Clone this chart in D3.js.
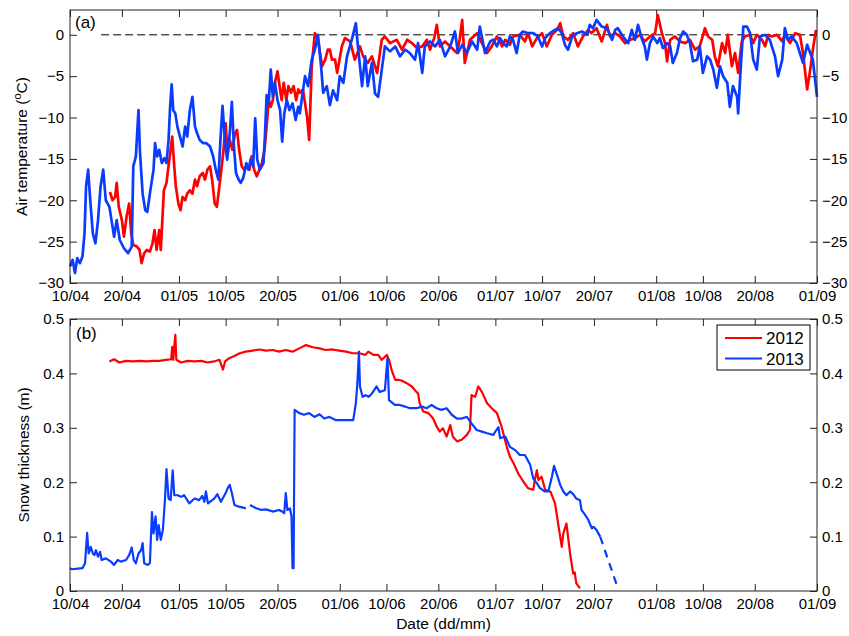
<!DOCTYPE html>
<html><head><meta charset="utf-8">
<script src="https://d3js.org/d3.v7.min.js"></script>
<style>
body{margin:0;background:#fff;}
text{font-family:"Liberation Sans",Arial,Helvetica,sans-serif;}
</style></head>
<body><svg id="c" width="849" height="636"></svg>
<script>
// ---- data (x = days since 10/04) ----
const dateTickDays   = [0,10,21,30,40,52,61,71,82,91,101,113,122,132,144];
const dateTickLabels = ["10/04","20/04","01/05","10/05","20/05","01/06","10/06","20/06","01/07","10/07","20/07","01/08","10/08","20/08","01/09"];
const airTicks  = [-30,-25,-20,-15,-10,-5,0];
const snowTicks = [0,0.1,0.2,0.3,0.4,0.5];
const seriesNames = ["2012","2013"];

const airDays2012 = [7.7,8.2,8.7,9.0,9.4,10.0,10.4,10.9,11.4,11.8,12.2,12.9,13.4,13.8,14.3,14.8,15.4,15.9,16.3,16.7,17.2,17.5,17.8,18.1,18.6,18.9,19.4,19.7,20.1,20.4,20.9,21.3,21.7,22.2,22.6,23.1,23.6,24.1,24.5,25.0,25.6,26.0,26.5,27.0,27.4,27.9,28.3,28.7,29.1,29.6,30.0,30.4,30.8,31.3,31.8,32.2,32.6,33.1,33.6,34.1,34.6,35.0,35.5,36.0,36.5,37.0,37.5,37.9,38.3,38.7,39.1,39.5,40.0,40.4,40.8,41.2,41.7,42.1,42.6,43.1,43.6,44.0,44.3,44.9,45.7,46.1,46.6,47.2,47.8,48.6,49.2,49.7,50.1,50.5,51.1,51.5,52.4,53.0,54.0,54.9,55.9,56.5,57.4,58.2,59.2,60.1,60.7,61.7,63.0,64.0,65.0,65.9,66.9,67.9,68.8,69.4,70.2,70.7,71.3,72.3,73.3,74.6,75.1,75.6,76.1,77.1,78.5,79.4,80.4,81.3,82.3,83.3,83.9,84.8,85.4,86.7,87.7,88.3,89.1,90.0,91.0,91.9,92.9,93.9,94.5,95.1,96.0,97.0,97.9,98.9,99.9,100.5,101.5,102.5,103.5,104.1,105.1,106.0,107.0,108.0,108.9,109.9,110.8,111.8,112.8,113.3,114.1,114.7,115.1,115.7,116.6,117.6,118.6,119.5,120.5,121.4,122.4,123.0,123.8,124.3,124.9,125.7,126.3,126.8,127.6,128.2,128.8,129.5,130.1,131.1,131.7,132.4,133.4,134.0,134.6,135.3,136.3,137.3,137.8,138.8,139.8,140.7,141.3,142.1,142.7,143.2,143.8];
const air2012 = [-19.0,-20.0,-19.6,-17.9,-20.8,-22.4,-24.4,-22.0,-20.4,-24.0,-25.4,-25.6,-26.0,-27.6,-26.4,-26.0,-26.2,-25.2,-23.6,-26.0,-23.6,-26.0,-22.4,-18.8,-17.9,-16.3,-13.9,-12.3,-15.9,-18.3,-20.4,-21.2,-19.6,-20.0,-19.2,-18.8,-19.2,-17.5,-18.3,-17.1,-16.7,-17.5,-16.3,-15.9,-17.5,-20.4,-20.8,-18.8,-16.7,-13.9,-10.7,-14.3,-12.7,-13.9,-11.9,-11.5,-13.9,-15.9,-16.3,-15.9,-16.3,-14.7,-16.3,-17.1,-16.3,-15.5,-13.9,-11.1,-7.9,-8.7,-7.9,-5.8,-4.4,-6.2,-7.9,-5.8,-7.9,-6.2,-7.0,-6.2,-7.9,-6.6,-7.0,-6.6,-9.9,-12.7,-3.8,0.2,-0.6,-3.8,-3.0,-1.8,-1.8,-3.0,-3.0,-4.6,-1.4,-0.4,-0.8,-3.0,-1.4,-2.6,-3.4,-2.6,-4.6,-0.6,-0.2,-1.0,-0.6,-1.8,-0.6,-1.0,-1.6,-1.4,-0.6,-1.8,-0.4,1.2,-1.4,-0.8,-1.4,-2.2,-0.6,1.8,-3.4,-0.6,0.2,-1.0,-2.2,-1.4,-0.2,-1.4,-0.6,-1.2,-0.2,0.0,-0.8,0.2,-1.4,-0.4,0.2,-1.4,0.0,0.6,1.4,-0.2,-0.6,0.2,-1.4,-0.2,0.6,0.2,0.8,-0.8,1.2,-0.2,0.2,-0.2,-1.0,-0.6,-0.4,0.0,-0.8,-0.2,0.2,2.4,0.2,-1.0,-3.2,-0.6,-0.2,-0.8,-1.0,-0.6,-1.8,-1.4,0.8,-0.2,-0.6,-2.6,-3.8,-1.0,-2.2,0.0,-3.8,-2.2,-4.6,-0.8,-0.2,0.0,-1.0,0.0,-0.6,-1.4,0.0,-0.2,0.0,-0.8,0.0,-1.0,0.2,0.0,-2.2,-6.6,-4.2,-1.8,0.6];

const airDays2013 = [0,0.5,0.96,1.4,1.9,2.4,2.8,3.1,3.5,3.9,4.4,4.9,5.4,5.9,6.4,6.9,7.6,8.0,8.5,9.0,9.6,10.4,11.2,11.9,12.2,12.7,13.2,13.5,14.0,14.5,14.9,15.4,16.1,16.4,16.8,17.2,17.7,18.2,18.6,19.0,19.3,19.6,19.9,20.3,20.7,21.2,21.7,22.2,22.6,23.1,23.6,24.1,24.5,25.0,25.7,26.3,27.0,27.6,28.1,28.6,29.0,29.4,29.9,30.3,30.8,31.2,31.6,32.0,32.5,32.9,33.4,34.0,34.4,34.8,35.3,35.7,36.1,36.6,37.3,37.6,37.9,38.3,38.7,39.1,39.5,40.0,40.5,40.9,41.3,41.8,42.3,42.9,43.5,44.0,44.3,45.3,45.9,46.6,47.2,47.8,48.4,48.8,49.5,50.1,50.7,51.5,52.0,52.7,53.4,54.4,55.1,55.5,56.3,56.9,57.4,58.2,58.8,59.4,60.1,60.7,61.7,62.7,63.6,64.6,65.5,66.5,67.1,67.9,68.4,69.4,70.4,71.3,72.3,73.3,74.2,74.8,75.6,76.5,77.5,78.5,79.0,80.0,81.0,81.6,82.3,82.9,83.5,84.2,84.8,85.4,86.1,86.7,87.3,88.3,89.3,90.2,91.0,91.6,92.5,93.5,94.1,94.8,95.4,96.0,96.8,97.7,98.7,99.7,100.2,100.8,101.5,102.5,103.5,104.5,105.1,105.6,106.6,107.6,108.3,108.9,109.5,110.3,110.8,111.2,111.8,112.4,113.2,113.7,114.3,115.1,115.7,116.2,117.0,117.6,118.2,118.9,119.5,120.1,120.9,121.4,122.0,122.8,123.4,124.0,124.7,125.3,125.9,126.7,127.2,127.8,128.6,128.8,129.2,129.8,130.5,131.1,131.7,132.4,133.0,134.0,134.9,135.9,136.5,137.3,137.8,138.4,139.1,140.1,140.7,141.3,142.1,142.7,143.2,144.0];
const air2013 = [-28,-27.2,-28.8,-27,-27.6,-26.8,-24,-18.3,-16.3,-20,-24,-25.2,-22.4,-18.3,-16.3,-20,-20.8,-22.4,-24.4,-22.4,-24.8,-25.8,-26.4,-25.6,-15.9,-14.7,-9.1,-14.3,-19.2,-21.2,-21.4,-19.2,-16.3,-13.1,-14.7,-13.9,-15.5,-14.9,-15.5,-12.7,-8.7,-6.0,-9.1,-9.5,-11.1,-12.3,-13.5,-11.1,-12.3,-9.1,-7.5,-11.1,-11.9,-12.7,-13.1,-13.1,-13.5,-14.7,-16.3,-17.5,-12.7,-8.6,-13.1,-15.1,-11.9,-8.1,-13.5,-16.7,-17.5,-17.9,-17.3,-15.5,-16.3,-15.1,-15.9,-10.1,-15.1,-16.3,-15.5,-11.9,-7.3,-8.3,-4.2,-7.5,-5.8,-7.9,-9.1,-12.9,-9.5,-7.9,-9.1,-8.3,-10.3,-8.7,-9.5,-5.0,-6.2,-3.0,-1.8,0.0,-3.8,-7.0,-6.2,-8.5,-6.7,-7.9,-5.0,-5.8,-2.6,-0.4,1.4,-1.4,-6.2,-2.6,-6.2,-3.4,-7.1,-7.5,-4.2,-1.4,-2.0,-1.4,-2.6,-1.8,-2.2,-3.0,-1.0,-4.6,-1.4,-0.8,-1.4,-0.6,-2.6,-1.4,0.4,-2.2,-1.2,-2.2,-0.8,-1.8,1.0,-2.2,-0.8,-0.6,-1.4,-0.4,-1.0,-1.4,-0.2,-0.6,-2.2,0.0,0.4,0.2,0.2,-0.2,-1.4,-0.4,0.2,0.6,0.8,0.2,-1.2,-1.8,-0.2,0.2,0.4,0.0,1.2,0.8,1.8,1.0,0.8,-0.6,0.6,0.8,-0.2,-1.0,0.6,-0.6,1.2,-0.6,-1.4,-3.0,-1.0,-0.2,-1.0,-0.4,-1.6,-1.0,-1.4,-3.4,-2.2,-0.4,0.4,0.0,-1.0,-3.2,-3.0,-1.4,-4.6,-2.6,-3.0,-4.2,-6.4,-3.8,-5.0,-5.8,-8.7,-6.2,-7.5,-9.5,-5.0,1.0,1.0,0.2,-3.0,-4.2,-0.2,0.0,-0.6,-2.6,-5.0,-3.0,0.8,-0.6,-0.2,-1.0,-2.2,-3.4,-1.2,-2.2,-3.0,-7.5];

const snowDays2012 = [7.6,8.5,9.5,10.8,12.1,13.4,14.7,16.0,17.2,18.5,19.5,19.7,19.9,20.3,20.5,21.4,22.7,24.0,25.3,26.5,27.8,28.8,29.5,29.9,30.7,31.7,32.7,33.9,35.2,36.5,37.8,39.1,40.3,41.6,42.9,44.2,45.5,46.8,48.1,49.3,50.6,51.9,53.2,54.5,55.8,56.9,57.5,58.5,59.4,60.1,61.1,61.6,62.0,62.7,63.3,63.9,64.9,65.9,66.5,67.1,67.4,68.1,69.1,70.0,70.7,71.3,71.9,72.6,73.3,73.8,74.6,75.5,76.5,77.1,77.4,78.1,78.7,79.4,80.4,81.3,82.3,83.2,84.2,84.8,85.5,86.4,87.4,88.3,89.3,89.6,90.0,90.3,90.9,91.6,92.6,93.5,94.1,94.8,95.1,95.7,96.4,97.0,97.3,97.6,98.3];
const snow2012 = [0.422,0.426,0.420,0.423,0.422,0.423,0.422,0.423,0.423,0.425,0.426,0.449,0.425,0.471,0.425,0.420,0.423,0.422,0.423,0.420,0.422,0.425,0.407,0.422,0.428,0.432,0.437,0.440,0.442,0.444,0.442,0.443,0.440,0.443,0.440,0.446,0.452,0.448,0.446,0.443,0.444,0.442,0.440,0.437,0.437,0.434,0.440,0.434,0.434,0.425,0.434,0.422,0.406,0.388,0.388,0.387,0.382,0.376,0.369,0.363,0.345,0.330,0.327,0.317,0.302,0.293,0.299,0.284,0.305,0.284,0.275,0.278,0.287,0.296,0.360,0.357,0.376,0.366,0.345,0.336,0.327,0.302,0.265,0.247,0.235,0.216,0.201,0.189,0.186,0.204,0.222,0.204,0.210,0.186,0.183,0.161,0.124,0.081,0.106,0.124,0.069,0.032,0.034,0.014,0.005];

const snowDays2013 = [0,0.35,1.5,2.4,2.9,3.3,3.6,4.0,4.4,4.7,5.0,5.4,5.8,6.1,6.9,7.9,8.5,9.2,9.8,10.8,11.4,11.9,12.3,12.7,13.2,13.7,14.0,14.3,15.0,15.4,15.8,16.1,16.5,16.8,17.1,17.5,17.9,18.3,18.6,19.0,19.4,19.8,20.1,20.8,21.4,22.0,23.0,24.0,24.9,25.5,25.9,26.2,26.6,27.8,28.4,29.1,30.0,30.4,30.8,31.2,31.7,32.6,33.9,34.2,34.7,35.9,36.9,37.8,39.1,40.3,40.9,41.3,41.6,41.9,42.4,42.7,42.9,43.1,43.3,44.2,45.1,46.1,47.1,48.1,49.0,50.0,51.3,52.6,53.9,54.6,55.1,55.4,55.7,55.9,56.4,57.0,57.6,58.2,59.1,59.7,60.7,61.2,61.5,62.6,63.6,64.6,65.5,66.8,67.8,68.8,69.7,70.7,71.6,72.6,73.6,74.6,75.5,76.5,77.4,78.4,79.4,80.4,81.6,82.2,82.6,82.9,83.9,84.8,85.8,86.7,87.7,88.7,89.3,90.0,90.6,91.5,92.2,92.9,93.3,93.9,94.5,95.1,95.7,96.4,97.0,97.6,98.3,98.6,99.3,99.9,100.6,100.9,101.5,102.2];
const snow2013 = [0.042,0.040,0.041,0.042,0.051,0.107,0.069,0.081,0.069,0.066,0.075,0.063,0.072,0.057,0.060,0.054,0.048,0.057,0.054,0.057,0.066,0.080,0.057,0.051,0.069,0.075,0.088,0.051,0.048,0.051,0.145,0.106,0.137,0.094,0.121,0.094,0.112,0.167,0.224,0.170,0.167,0.222,0.176,0.176,0.173,0.176,0.161,0.170,0.167,0.175,0.164,0.183,0.161,0.170,0.178,0.164,0.180,0.189,0.195,0.180,0.158,0.155,0.152,NaN,0.158,0.152,0.149,0.150,0.146,0.149,0.146,0.143,0.180,0.149,0.152,0.137,0.042,0.042,0.333,0.327,0.324,0.327,0.320,0.325,0.317,0.320,0.314,0.314,0.314,0.314,0.345,0.382,0.440,0.376,0.357,0.360,0.357,0.363,0.376,0.366,0.369,0.428,0.351,0.342,0.342,0.339,0.336,0.336,0.339,0.336,0.342,0.336,0.333,0.336,0.324,0.317,0.317,0.320,0.308,0.296,0.293,0.290,0.287,0.296,0.301,0.281,0.284,0.265,0.259,0.250,0.250,0.232,0.207,0.198,0.189,0.183,0.183,0.210,0.230,0.213,0.195,0.183,0.176,0.183,0.178,0.170,0.167,0.149,0.140,0.131,0.115,0.118,0.112,0.100];

const snowDays2013Est = [102.2,105.4];
const snow2013Est = [0.100,0.011];

const zeroLineDays = [6,144];

// ---- drawing ----
const L = 70, R = 817;
const top1 = 10, bot1 = 283, top2 = 319, bot2 = 591;
const RED = "#ff0000", BLUE = "#0a3cff";
const FS = 15;
const svg = d3.select("#c");

const x = d3.scaleLinear().domain([0,144]).range([L,R]);
const yA = d3.scaleLinear().domain([-30,3]).range([bot1,top1]);
const yS = d3.scaleLinear().domain([0,0.5]).range([bot2,top2]);

const minus = v => (v < 0 ? "\u2212" + Math.abs(v) : String(v));
const dateFmt = d => dateTickLabels[dateTickDays.indexOf(d)];

function panel(y, yt, yfmt, top, bot) {
  const g = svg.append("g");
  const style = s => {
    s.select(".domain").remove();
    s.selectAll(".tick line").attr("stroke","#222").attr("stroke-width",1);
    s.selectAll(".tick text").attr("font-size",FS).attr("fill","#000")
      .attr("font-family","Liberation Sans, Arial, sans-serif");
  };
  g.append("g").attr("transform",`translate(0,${bot})`)
    .call(d3.axisBottom(x).tickValues(dateTickDays).tickFormat(dateFmt).tickSizeInner(-7).tickSizeOuter(0).tickPadding(7)).call(style);
  g.append("g").attr("transform",`translate(0,${top})`)
    .call(d3.axisTop(x).tickValues(dateTickDays).tickFormat("").tickSizeInner(-7).tickSizeOuter(0)).call(style);
  g.append("g").attr("transform",`translate(${L},0)`)
    .call(d3.axisLeft(y).tickValues(yt).tickFormat(yfmt).tickSizeInner(-7).tickSizeOuter(0).tickPadding(6)).call(style);
  g.append("g").attr("transform",`translate(${R},0)`)
    .call(d3.axisRight(y).tickValues(yt).tickFormat(yfmt).tickSizeInner(-7).tickSizeOuter(0).tickPadding(5)).call(style);
  return g;
}

function box(top, bot) {
  svg.append("rect").attr("x",L).attr("y",top).attr("width",R-L).attr("height",bot-top)
    .attr("fill","none").attr("stroke","#222").attr("stroke-width",1);
}

// panel (a)
panel(yA, airTicks, minus, top1, bot1);
svg.append("line").attr("x1",x(zeroLineDays[0])).attr("x2",x(zeroLineDays[1]))
  .attr("y1",yA(0)).attr("y2",yA(0)).attr("stroke","#000").attr("stroke-width",1)
  .attr("stroke-dasharray","8,4");
const lineA = d3.line().x(d=>x(d[0])).y(d=>yA(d[1]));
svg.append("path").datum(d3.zip(airDays2012, air2012)).attr("d",lineA)
  .attr("fill","none").attr("stroke",RED).attr("stroke-width",2.7).attr("stroke-linejoin","round");
svg.append("path").datum(d3.zip(airDays2013, air2013)).attr("d",lineA)
  .attr("fill","none").attr("stroke",BLUE).attr("stroke-width",2.7).attr("stroke-linejoin","round");
box(top1, bot1);
svg.append("text").attr("x",75).attr("y",28).attr("font-size",17).text("(a)");

// panel (b)
panel(yS, snowTicks, d => d === 0 ? "0" : d.toFixed(1), top2, bot2);
const lineB = d3.line().defined(d=>!isNaN(d[1])).x(d=>x(d[0])).y(d=>yS(d[1]));
svg.append("path").datum(d3.zip(snowDays2012, snow2012)).attr("d",lineB)
  .attr("fill","none").attr("stroke",RED).attr("stroke-width",2.2).attr("stroke-linejoin","round");
svg.append("path").datum(d3.zip(snowDays2013, snow2013)).attr("d",lineB)
  .attr("fill","none").attr("stroke",BLUE).attr("stroke-width",2.2).attr("stroke-linejoin","round");
svg.append("path").datum(d3.zip(snowDays2013Est, snow2013Est)).attr("d",lineB)
  .attr("fill","none").attr("stroke",BLUE).attr("stroke-width",2.2).attr("stroke-dasharray","8,6");
box(top2, bot2);
svg.append("text").attr("x",76).attr("y",339).attr("font-size",17).text("(b)");

// axis labels
const ya = svg.append("text").attr("transform",`translate(27,${(top1+bot1)/2}) rotate(-90)`)
  .attr("text-anchor","middle").attr("font-size",15.5);
ya.append("tspan").text("Air temperature (");
ya.append("tspan").text("o").attr("font-size",11).attr("dy",-6);
ya.append("tspan").text("C)").attr("dy",6);
svg.append("text").attr("transform",`translate(29,${(top2+bot2)/2}) rotate(-90)`)
  .attr("text-anchor","middle").attr("font-size",15.5).text("Snow thickness (m)");
svg.append("text").attr("x",(L+R)/2).attr("y",629).attr("text-anchor","middle")
  .attr("font-size",15.5).text("Date (dd/mm)");

// legend
const lg = svg.append("g");
lg.append("rect").attr("x",717).attr("y",325).attr("width",93).attr("height",45)
  .attr("fill","#fff").attr("stroke","#000").attr("stroke-width",1);
[RED, BLUE].forEach((c,i) => {
  const yy = 338 + i*20.5;
  lg.append("line").attr("x1",725).attr("x2",762).attr("y1",yy).attr("y2",yy)
    .attr("stroke",c).attr("stroke-width",2.2);
  lg.append("text").attr("x",766).attr("y",yy+6).attr("font-size",17).text(seriesNames[i]);
});
</script></body></html>
